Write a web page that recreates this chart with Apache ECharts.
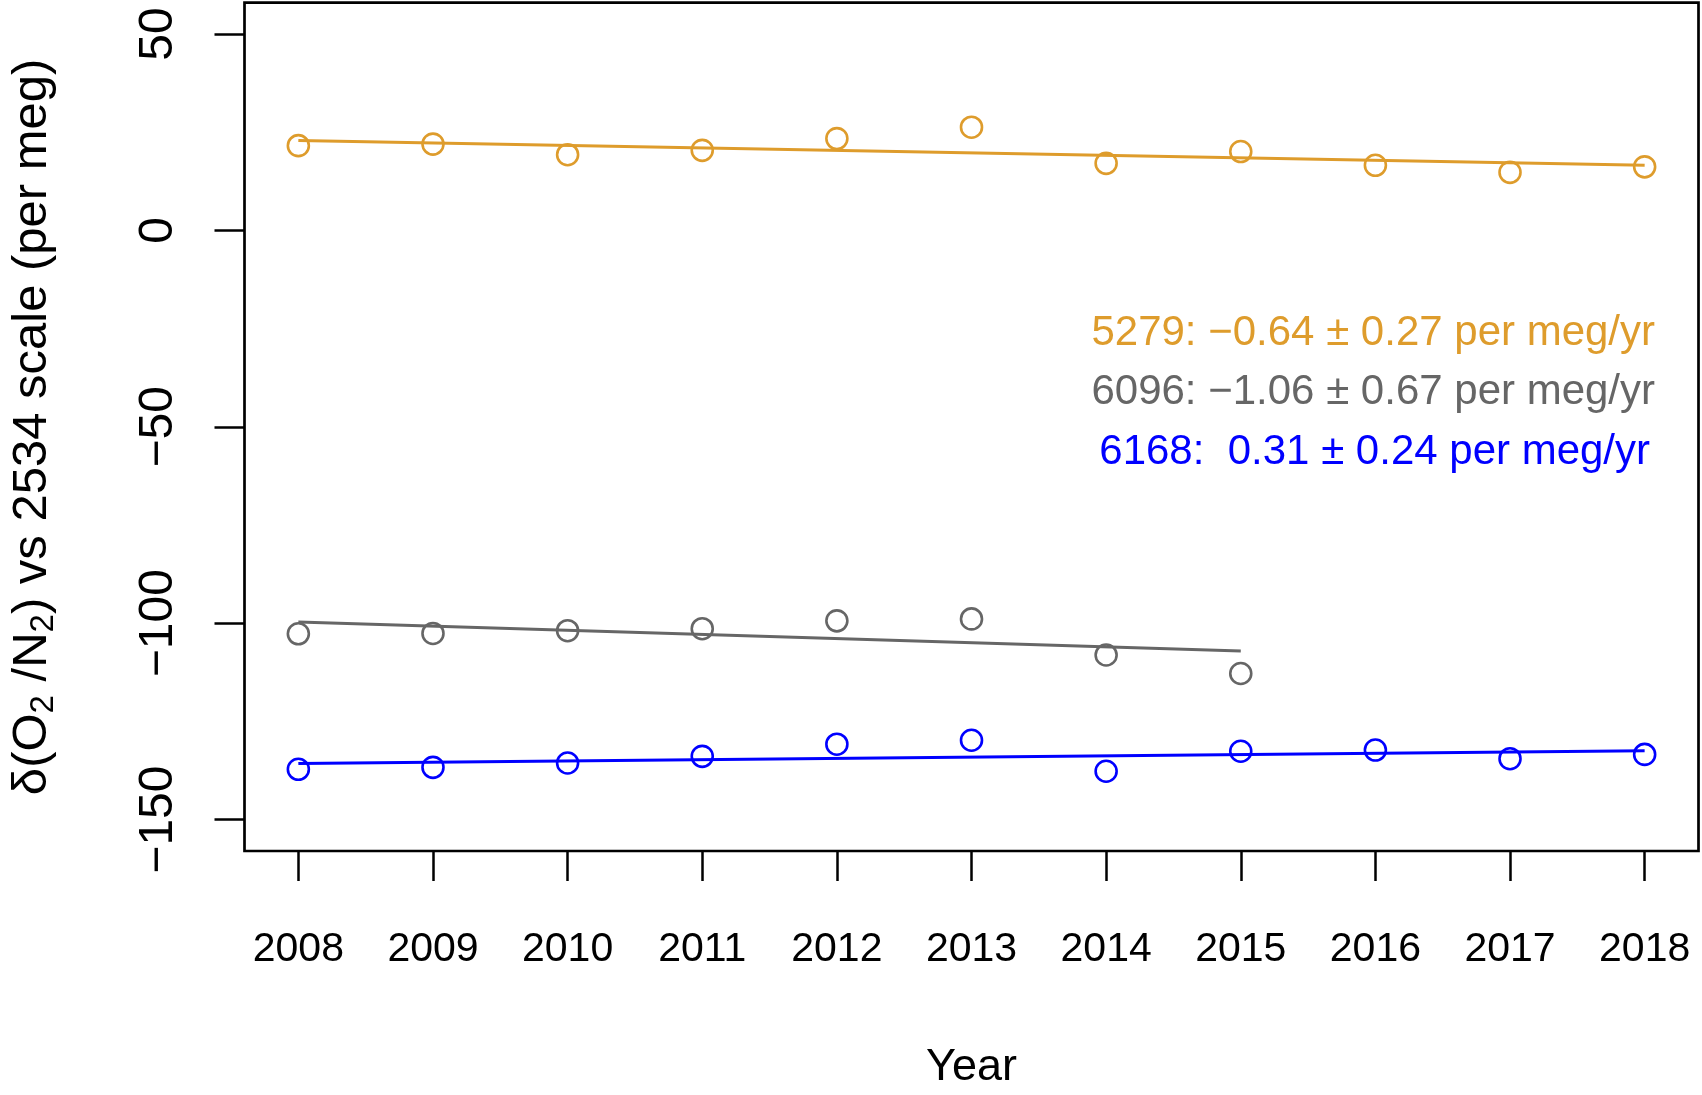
<!DOCTYPE html>
<html>
<head>
<meta charset="utf-8">
<script src="https://cdn.jsdelivr.net/npm/echarts@6/dist/echarts.min.js"></script>
<style>
  html, body { margin: 0; padding: 0; background: #fff; }
  #chart { width: 1702px; height: 1095px; }
</style>
</head>
<body>
<div id="chart"></div>
<script>
// ---- data ----
const years = [2008, 2009, 2010, 2011, 2012, 2013, 2014, 2015, 2016, 2017, 2018];
const years6096 = [2008, 2009, 2010, 2011, 2012, 2013, 2014, 2015];
const values5279 = [21.6, 22.0, 19.3, 20.4, 23.4, 26.3, 17.1, 20.1, 16.6, 14.8, 16.2];
const values6096 = [-102.7, -102.6, -101.9, -101.4, -99.4, -98.9, -108.1, -112.8];
const values6168 = [-137.2, -136.7, -135.6, -133.9, -130.8, -129.8, -137.7, -132.6, -132.3, -134.5, -133.4];
// fitted trend lines (end points)
const trendYears5279 = [2008, 2018];
const trendValues5279 = [22.9, 16.6];
const trendYears6096 = [2008, 2015];
const trendValues6096 = [-99.7, -107.1];
const trendYears6168 = [2008, 2018];
const trendValues6168 = [-135.7, -132.5];
// axis ticks
const xTicks = [2008, 2009, 2010, 2011, 2012, 2013, 2014, 2015, 2016, 2017, 2018];
const yTicks = [-150, -100, -50, 0, 50];
// annotation texts
const notes = [
  '5279: \u22120.64 \u00b1 0.27 per meg/yr',
  '6096: \u22121.06 \u00b1 0.67 per meg/yr',
  '6168:  0.31 \u00b1 0.24 per meg/yr'
];

const C_ORANGE = '#DE9C2C';
const C_GRAY = '#666666';
const C_BLUE = '#0000FF';
const FONT = '"Liberation Sans", Arial, Helvetica, sans-serif';

function pairs(xs, ys) { return xs.map((x, i) => [x, ys[i]]); }

const chart = echarts.init(document.getElementById('chart'), null, { renderer: 'canvas' });

function scatter(name, xs, ys, color) {
  return {
    name, type: 'scatter', data: pairs(xs, ys),
    symbol: 'circle', symbolSize: 21,
    itemStyle: { color: 'rgba(255,255,255,0)', borderColor: color, borderWidth: 2.6, opacity: 1 },
    emphasis: { disabled: true }, z: 3
  };
}
function trend(name, xs, ys, color) {
  return {
    name, type: 'line', data: pairs(xs, ys), showSymbol: false, symbol: 'none',
    lineStyle: { color, width: 3 }, emphasis: { disabled: true }, z: 2, silent: true
  };
}

const option = {
  animation: false,
  backgroundColor: '#fff',
  grid: {
    left: 240.5, right: 3.5, top: 2.7, bottom: 229,
    show: true, borderColor: '#000', borderWidth: 2.7, backgroundColor: 'transparent'
  },
  xAxis: {
    type: 'value', min: 2007.6, max: 2018.4,
    name: 'Year', nameLocation: 'middle', nameGap: 194,
    nameTextStyle: { fontFamily: FONT, fontSize: 45, color: '#000' },
    axisLine: { show: false, onZero: false },
    splitLine: { show: false },
    axisTick: { show: true, customValues: xTicks, length: 30, inside: false,
      lineStyle: { color: '#000', width: 2.5 } },
    axisLabel: { customValues: xTicks, fontFamily: FONT, fontSize: 41, color: '#000',
      margin: 78, formatter: v => String(v) }
  },
  yAxis: {
    type: 'value', min: -158, max: 58,
    name: '{a|\u03b4(O}{s|2}{a| /N}{s|2}{a|) vs 2534 scale (per meg)}',
    nameLocation: 'middle', nameRotate: 90, nameGap: 184,
    nameTextStyle: {
      rich: {
        a: { fontFamily: FONT, fontSize: 49, color: '#000', lineHeight: 56, verticalAlign: 'middle' },
        s: { fontFamily: FONT, fontSize: 33, color: '#000', lineHeight: 30, verticalAlign: 'bottom' }
      }
    },
    axisLine: { show: false, onZero: false },
    splitLine: { show: false },
    axisTick: { show: true, customValues: yTicks, length: 30, inside: false,
      lineStyle: { color: '#000', width: 2.5 } },
    axisLabel: { customValues: yTicks, rotate: 90, fontFamily: FONT, fontSize: 48, color: '#000',
      margin: 62, formatter: v => (v < 0 ? '\u2212' + Math.abs(v) : String(v)) }
  },
  series: [
    trend('trend5279', trendYears5279, trendValues5279, C_ORANGE),
    trend('trend6096', trendYears6096, trendValues6096, C_GRAY),
    trend('trend6168', trendYears6168, trendValues6168, C_BLUE),
    scatter('5279', years, values5279, C_ORANGE),
    scatter('6096', years6096, values6096, C_GRAY),
    scatter('6168', years, values6168, C_BLUE)
  ],
  graphic: [
    { type: 'text', right: 1702 - 1655, top: 337 - 25,
      style: { text: notes[0], fill: C_ORANGE, font: '42px ' + FONT, textAlign: 'right' } },
    { type: 'text', right: 1702 - 1655, top: 396 - 25,
      style: { text: notes[1], fill: C_GRAY, font: '42px ' + FONT, textAlign: 'right' } },
    { type: 'text', right: 1702 - 1650, top: 456 - 25,
      style: { text: notes[2], fill: C_BLUE, font: '42px ' + FONT, textAlign: 'right' } }
  ]
};
chart.setOption(option);
</script>
</body>
</html>
